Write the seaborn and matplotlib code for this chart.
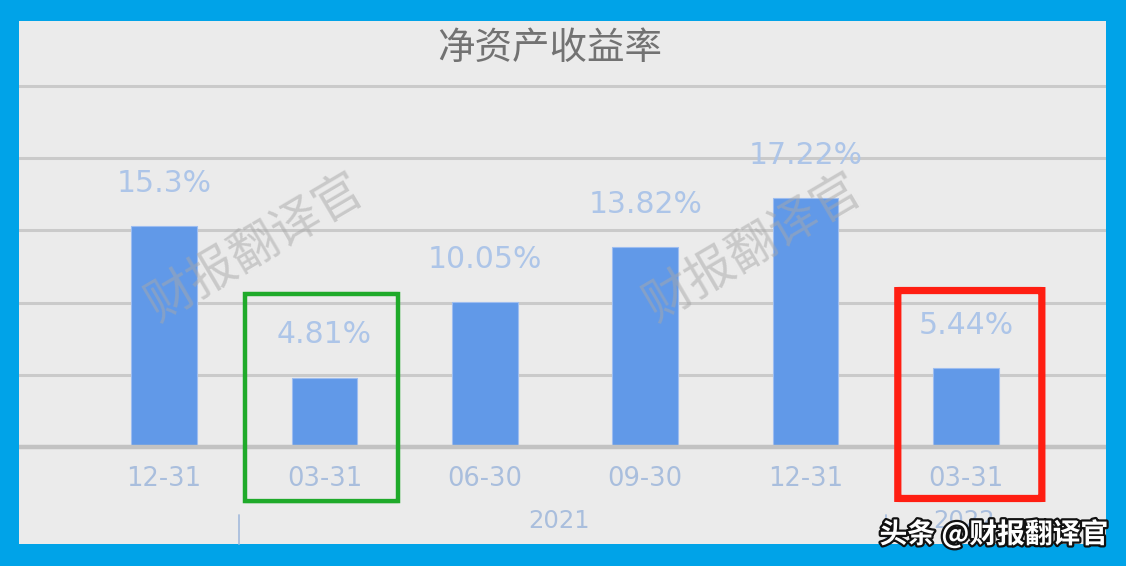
import matplotlib
matplotlib.use("Agg")
import matplotlib.pyplot as plt
import matplotlib.patheffects as pe
from matplotlib.patches import FancyBboxPatch
import seaborn as sns
import pandas as pd

# ---- data ----
periods = ["2020-12-31", "2021-03-31", "2021-06-30", "2021-09-30", "2021-12-31", "2022-03-31"]
tick_labels = ["12-31", "03-31", "06-30", "09-30", "12-31", "03-31"]
roe = [15.3, 4.81, 10.05, 13.82, 17.22, 5.44]
value_labels = ["15.3%", "4.81%", "10.05%", "13.82%", "17.22%", "5.44%"]
years = ["2021", "2022"]
title = "净资产收益率"
watermark = "财报翻译官"
credit = "头条 @财报翻译官"

df = pd.DataFrame({"period": periods, "roe": roe})

sns.set_theme(style="white")
plt.rcParams["font.family"] = ["DejaVu Sans", "Noto Sans CJK SC"]
cjk = ["Noto Sans CJK SC", "DejaVu Sans"]

W, H = 1126, 566
fig = plt.figure(figsize=(W / 100, H / 100), dpi=100, facecolor="#00A3E8")
ax = fig.add_axes([19 / W, (H - 544) / H, (1106 - 19) / W, (544 - 21) / H])
ax.set_facecolor("#EBEBEB")

sns.barplot(data=df, x="period", y="roe", color="#6199E8", width=0.41,
            saturation=1, ax=ax, zorder=3, edgecolor="#9DBDF0", linewidth=0.8)

ax.set_xlim(-0.904, 5.873)
ax.set_ylim(-6.71, 29.48)

# gridlines
for yv in [5, 10, 15, 20, 25]:
    ax.axhline(yv, color="#CACACA", lw=2.2, zorder=1)
ax.axhline(0, color="#C2C2C2", lw=3.2, zorder=4)

for s in ax.spines.values():
    s.set_visible(False)
ax.set_yticks([])
ax.set_xlabel("")
ax.set_ylabel("")
ax.set_xticks(range(len(tick_labels)))
ax.set_xticklabels([])
ax.tick_params(axis="x", length=0)

axis_col = "#A9BEDD"
for i, t in enumerate(tick_labels):
    ax.text(i, -2.2, t, ha="center", va="center", fontsize=18.5,
            color=axis_col, zorder=5)

lab_col = "#ADC5E8"
for i, (v, t) in enumerate(zip(roe, value_labels)):
    ax.text(i, v + 2.95, t, ha="center", va="center", fontsize=21.5,
            color=lab_col, zorder=5)

# year labels and separators
ax.text(2.46, -5.1, years[0], ha="center", va="center", fontsize=17.5,
        color=axis_col, clip_on=False)
ax.text(4.99, -5.1, years[1], ha="center", va="center", fontsize=17.5,
        color=axis_col, clip_on=False)
for xs in [0.47, 4.5]:
    ax.plot([xs, xs], [-4.7, -6.71], color=axis_col, lw=1.3, clip_on=False)

# title
ax.text(0.488, 0.948, title, transform=ax.transAxes, ha="center", va="center",
        fontsize=27, color="#727272", family=cjk)

# watermarks
for xw in [0.57, 3.67]:
    ax.text(xw, 13.8, watermark, ha="center", va="center", rotation=30.5,
            fontsize=35, color="#A8A8A8", alpha=0.5, family=cjk,
            fontweight="light", zorder=7)

# highlight boxes
g = FancyBboxPatch((0.505, -3.74), 1.459 - 0.505, 10.59 + 3.74,
                   boxstyle="round,pad=0,rounding_size=0.02", fill=False,
                   ec="#1FAA2A", lw=3.2, clip_on=False, zorder=8,
                   mutation_aspect=14.45 / 160.4)
ax.add_patch(g)
r = FancyBboxPatch((4.575, -3.56), 5.473 - 4.575, 10.83 + 3.56,
                   boxstyle="round,pad=0,rounding_size=0.04", fill=False,
                   ec="#FF1E12", lw=5.2, clip_on=False, zorder=8,
                   mutation_aspect=14.45 / 160.4)
ax.add_patch(r)

# credit
fig.text(1108 / W, 1 - 534 / H, credit, ha="right", va="center", fontsize=20,
         color="white", family=cjk, fontweight="bold",
         path_effects=[pe.withStroke(linewidth=3.2, foreground="#111111")])

fig.savefig("out.png", dpi=100, facecolor=fig.get_facecolor())
